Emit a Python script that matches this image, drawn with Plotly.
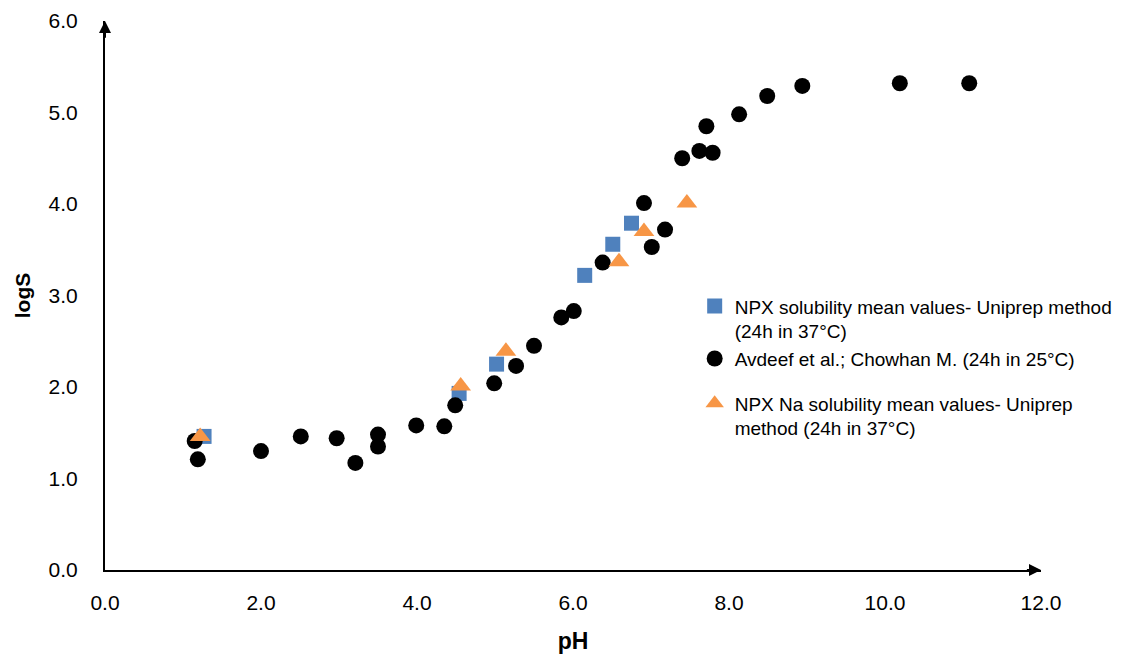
import plotly.graph_objects as go

# NPX solubility mean values - Uniprep method (24h in 37°C)
npx_ph = [1.27, 4.54, 5.02, 6.15, 6.51, 6.75]
npx_logs = [1.46, 1.93, 2.25, 3.22, 3.56, 3.79]

# Avdeef et al.; Chowhan M. (24h in 25°C)
lit_ph = [1.15, 1.19, 2.00, 2.51, 2.97, 3.21, 3.50, 3.50, 3.99, 4.35, 4.49, 4.99,
          5.27, 5.50, 5.85, 6.01, 6.38, 6.91, 7.01, 7.18, 7.40, 7.62, 7.71, 7.79,
          8.13, 8.49, 8.94, 10.19, 11.08]
lit_logs = [1.41, 1.21, 1.30, 1.46, 1.44, 1.17, 1.48, 1.35, 1.58, 1.57, 1.80, 2.04,
            2.23, 2.45, 2.76, 2.83, 3.36, 4.01, 3.53, 3.72, 4.50, 4.58, 4.85, 4.56,
            4.98, 5.18, 5.29, 5.32, 5.32]

# NPX Na solubility mean values - Uniprep method (24h in 37°C)
na_ph = [1.22, 4.56, 5.14, 6.59, 6.91, 7.46]
na_logs = [1.46, 2.01, 2.39, 3.37, 3.70, 4.01]

x_ticks = [0, 2, 4, 6, 8, 10, 12]
y_ticks = [0, 1, 2, 3, 4, 5, 6]

FONT = "Liberation Sans"

fig = go.Figure()
fig.add_trace(go.Scatter(
    x=npx_ph, y=npx_logs, mode="markers", legendgroup="a",
    name="NPX solubility mean values- Uniprep method<br>(24h in 37°C)",
    marker=dict(symbol="square", size=15, color="#4F81BD"),
))
fig.add_trace(go.Scatter(
    x=lit_ph, y=lit_logs, mode="markers", legendgroup="a",
    name="Avdeef et al.; Chowhan M. (24h in 25°C)",
    marker=dict(symbol="circle", size=16, color="black"),
))
fig.add_trace(go.Scatter(
    x=na_ph, y=na_logs, mode="markers", legendgroup="b",
    name="NPX Na solubility mean values- Uniprep<br>method (24h in 37°C)",
    marker=dict(symbol="triangle-up", size=18, color="#F79646"),
))

# arrowheads on axes
fig.add_annotation(x=12, y=0, ax=11.8, ay=0, xref="x", yref="y", axref="x", ayref="y",
                   text="", showarrow=True, arrowhead=2, arrowsize=1.2, arrowwidth=2,
                   arrowcolor="black")
fig.add_annotation(x=0, y=6, ax=0, ay=5.8, xref="x", yref="y", axref="x", ayref="y",
                   text="", showarrow=True, arrowhead=2, arrowsize=1.2, arrowwidth=2,
                   arrowcolor="black")

fig.update_layout(
    width=1132, height=661,
    margin=dict(l=97, r=99, t=13, b=99),
    plot_bgcolor="white", paper_bgcolor="white",
    font=dict(family=FONT, color="black", size=21),
    legend=dict(
        x=0.630, y=0.515, xanchor="left", yanchor="top",
        font=dict(family=FONT, size=19, color="black"),
        valign="top", itemwidth=30, tracegroupgap=17,
        bgcolor="rgba(0,0,0,0)",
    ),
    xaxis=dict(
        range=[0, 12], tickvals=x_ticks, ticktext=[f"{v:.1f}" for v in x_ticks],
        showgrid=False, zeroline=False, showline=True, linecolor="black", linewidth=2,
        ticks="", ticklabelstandoff=13, automargin=False,
        tickfont=dict(size=21, family=FONT),
        title=dict(text="<b>pH</b>", font=dict(size=23, family=FONT), standoff=20),
    ),
    yaxis=dict(
        range=[0, 6], tickvals=y_ticks, ticktext=[f"{v:.1f}" for v in y_ticks],
        showgrid=False, zeroline=False, showline=True, linecolor="black", linewidth=2,
        ticks="", ticklabelstandoff=21, automargin=False,
        tickfont=dict(size=21, family=FONT),
        title=dict(text="<b>logS</b>", font=dict(size=21, family=FONT), standoff=12),
    ),
)

fig.write_html("out.html")
